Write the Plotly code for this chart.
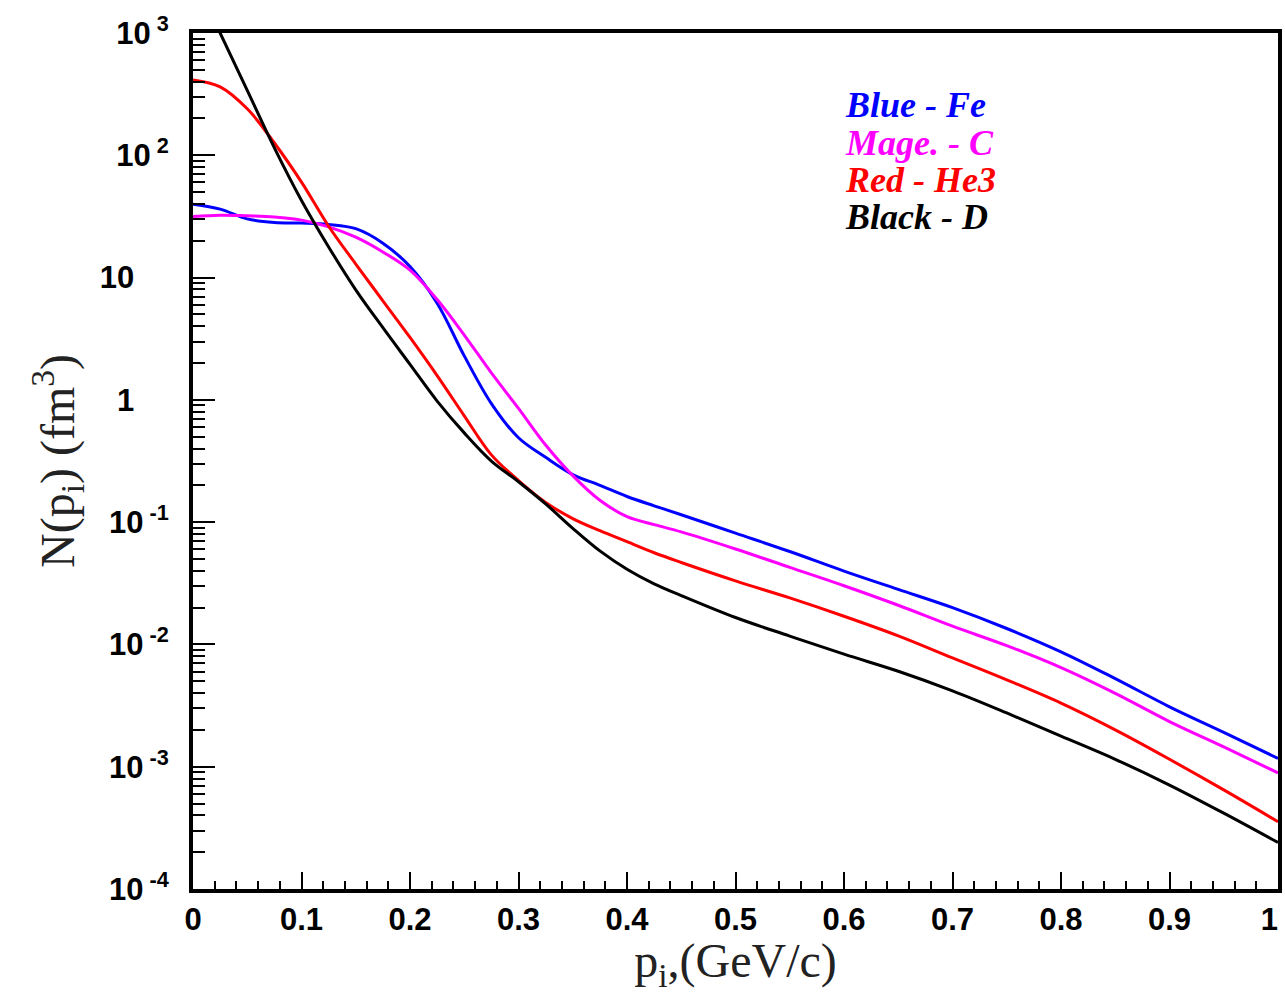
import plotly.graph_objects as go

# momentum p_i (GeV/c)
p = [0, 0.025, 0.05, 0.075, 0.1, 0.125, 0.15, 0.175, 0.2, 0.225, 0.25, 0.275,
     0.3, 0.325, 0.35, 0.375, 0.4, 0.425, 0.45, 0.5, 0.55, 0.6, 0.65, 0.7, 0.75,
     0.8, 0.85, 0.9, 0.95, 1.0]

# N(p_i) in fm^3
fe = [39.8, 36.3, 30.2, 28.2, 27.9, 27.2, 25.1, 19.1, 12.3, 6.17, 2.29, 0.933,
      0.490, 0.339, 0.245, 0.200, 0.162, 0.136, 0.115, 0.0813, 0.0575, 0.0398, 0.0282,
      0.0200, 0.0135, 0.0087, 0.00525, 0.00309, 0.00191, 0.00117]
c = [31.6, 32.4, 32.0, 31.3, 29.5, 26.0, 21.4, 16.2, 11.5, 6.61, 3.39, 1.66,
     0.851, 0.427, 0.240, 0.151, 0.111, 0.0955, 0.0832, 0.0603, 0.0427, 0.0302, 0.0209,
     0.0141, 0.00977, 0.00646, 0.00398, 0.00234, 0.00145, 0.000891]
he3 = [413, 363, 240, 126, 60.3, 26.3, 12.9, 6.46, 3.24, 1.58, 0.741, 0.355,
       0.219, 0.145, 0.107, 0.0851, 0.0692, 0.0562, 0.0468, 0.0331, 0.0240, 0.0170,
       0.01175, 0.00776, 0.00513, 0.00331, 0.00200, 0.00115, 0.000646, 0.000355]
d = [2950, 1000, 339, 115, 42.7, 17.8, 7.94, 3.89, 1.95, 0.977, 0.537, 0.316,
     0.214, 0.141, 0.0891, 0.0582, 0.0412, 0.0313, 0.0251, 0.0166, 0.0117, 0.00832,
     0.00603, 0.00417, 0.00275, 0.00178, 0.00115, 0.000708, 0.000417, 0.000240]

series = [("Blue - Fe", fe, "#0000FF"), ("Mage. - C", c, "#FF00FF"),
          ("Red - He3", he3, "#FF0000"), ("Black - D", d, "#000000")]

x_tickvals = [0, 0.1, 0.2, 0.3, 0.4, 0.5, 0.6, 0.7, 0.8, 0.9, 1.0]
x_ticktext = ["0", "0.1", "0.2", "0.3", "0.4", "0.5", "0.6", "0.7", "0.8", "0.9",
              "1\u00a0\u00a0"]
y_tickvals = [1e-4, 1e-3, 1e-2, 1e-1, 1, 10, 100, 1000]
pad = "\u00a0" * 4
y_ticktext = ["10<sup>\u00a0-4</sup>", "10<sup>\u00a0-3</sup>", "10<sup>\u00a0-2</sup>",
              "10<sup>\u00a0-1</sup>", "1" + pad, "10" + pad,
              "10<sup>\u00a02</sup>", "10<sup>\u00a03</sup>"]

fig = go.Figure()
for name, vals, col in series:
    fig.add_trace(go.Scatter(x=p, y=vals, mode="lines", name=name,
                             line=dict(color=col, width=3, shape="spline", smoothing=1.0),
                             showlegend=False))

tickfont = dict(family="Liberation Sans, Arial, sans-serif", size=31, color="black", weight="bold")
titlefont = dict(family="Liberation Serif, Times New Roman, serif", size=48, color="#222222")

fig.update_layout(
    width=1285, height=994,
    margin=dict(l=193, r=7, t=33, b=105),
    paper_bgcolor="white", plot_bgcolor="white",
    xaxis=dict(range=[0, 1], showgrid=False, zeroline=False, automargin=False,
               showline=True, linewidth=4, linecolor="black", mirror=True,
               ticks="inside", ticklen=17, tickwidth=2, tickcolor="black",
               tickvals=x_tickvals, ticktext=x_ticktext, tickfont=tickfont,
               ticklabeloverflow="allow",
               minor=dict(ticks="inside", dtick=0.02, ticklen=8, tickwidth=2,
                          tickcolor="black", showgrid=False),
               title=dict(text="p<sub>i</sub>,(GeV/c)", font=titlefont, standoff=8)),
    yaxis=dict(type="log", range=[-4, 3], showgrid=False, zeroline=False, automargin=False,
               showline=True, linewidth=4, linecolor="black", mirror=True,
               ticks="inside", ticklen=22, tickwidth=2, tickcolor="black",
               tickvals=y_tickvals, ticktext=y_ticktext, tickfont=tickfont,
               ticklabelstandoff=14, ticklabeloverflow="allow",
               minor=dict(ticks="inside", dtick="D1", ticklen=12, tickwidth=2,
                          tickcolor="black", showgrid=False)),
)

# y-axis title
fig.add_annotation(text="N(p<sub>i</sub>) (fm<sup>3</sup>)", xref="paper", yref="paper",
                   x=(57 - 193) / 1085, y=0.5, textangle=-90,
                   xanchor="center", yanchor="middle", showarrow=False, font=titlefont)

legend_y = [105, 143, 180, 217]
for (name, vals, col), yp in zip(series, legend_y):
    fig.add_annotation(text="<b><i>" + name + "</i></b>", xref="paper", yref="paper",
                       x=(843 - 193) / 1085, y=(889 - yp) / 856,
                       xanchor="left", yanchor="middle", showarrow=False,
                       font=dict(family="Liberation Serif, Times New Roman, serif",
                                 size=36, color=col))

fig.write_html("out.html")
